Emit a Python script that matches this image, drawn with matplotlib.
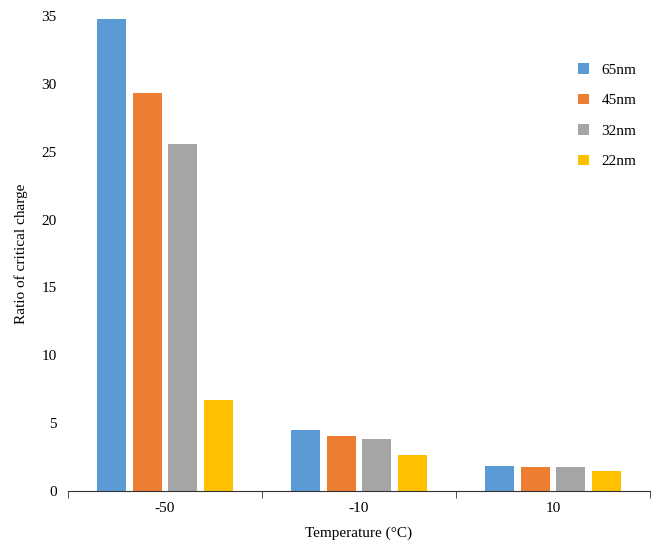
import numpy as np
import matplotlib
matplotlib.use("Agg")
import matplotlib.pyplot as plt

plt.rcParams['font.family'] = ['Liberation Serif', 'DejaVu Serif']

temps = ['-50', '-10', '10']
series = ['65nm', '45nm', '32nm', '22nm']
v65 = [34.8, 4.5, 1.85]
v45 = [29.3, 4.05, 1.77]
v32 = [25.6, 3.8, 1.77]
v22 = [6.7, 2.65, 1.47]
colors = ['#5B9BD5', '#ED7D31', '#A5A5A5', '#FFC000']

fig = plt.figure(figsize=(6.51, 5.46), dpi=100)
ax = fig.add_axes([68/651, 1 - 491/546, (650-68)/651, (491-16)/546])

x = np.arange(len(temps))
w = 0.15
step = 0.185
for i, (name, vals) in enumerate(zip(series, [v65, v45, v32, v22])):
    ax.bar(x + (i - 1.5) * step, vals, width=w, color=colors[i], label=name)

ax.set_xlim(-0.5, 2.5)
ax.set_ylim(0, 35)
ax.set_yticks(range(0, 36, 5))
ax.set_xticks(x)
ax.set_xticklabels(temps)
ax.tick_params(axis='x', length=0, labelsize=11, pad=8)
ax.tick_params(axis='y', length=0, labelsize=11, pad=8)
ax.set_xticks([-0.5, 0.5, 1.5, 2.5], minor=True)
ax.tick_params(axis='x', which='minor', length=5, direction='out', color='#333333')
for s in ['top', 'right', 'left']:
    ax.spines[s].set_visible(False)
ax.spines['bottom'].set_color('#333333')

ax.set_xlabel('Temperature (°C)', fontsize=11, labelpad=8)
ax.set_ylabel('Ratio of critical charge', fontsize=11, labelpad=10)

ax.legend(loc='upper right', bbox_to_anchor=(1.0, 0.93), frameon=False,
          fontsize=11, handlelength=0.7, handleheight=0.7, labelspacing=1.1)

fig.savefig('out.png', dpi=100)
